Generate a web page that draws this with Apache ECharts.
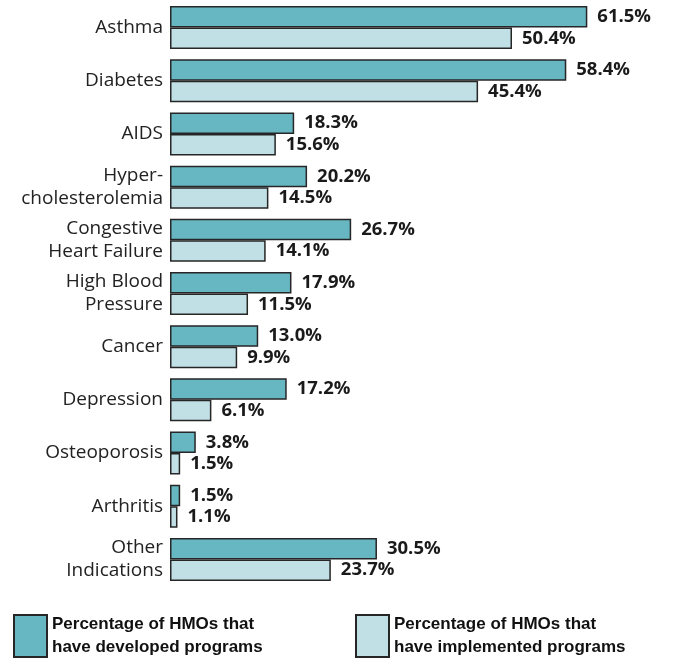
<!DOCTYPE html>
<html><head><meta charset="utf-8">
<script src="https://cdn.jsdelivr.net/npm/echarts@6/dist/echarts.min.js"></script>
<style>html,body{margin:0;padding:0;background:#fff}#c{width:673px;height:664px}</style>
</head><body><div id="c"></div>
<script>
const categories = ['Asthma','Diabetes','AIDS','Hyper-\ncholesterolemia','Congestive\nHeart Failure','High Blood\nPressure','Cancer','Depression','Osteoporosis','Arthritis','Other\nIndications'];
const developed = [61.5,58.4,18.3,20.2,26.7,17.9,13.0,17.2,3.8,1.5,30.5];
const implemented = [50.4,45.4,15.6,14.5,14.1,11.5,9.9,6.1,1.5,1.1,23.7];
const seriesNames = ['Percentage of HMOs that\nhave developed programs','Percentage of HMOs that\nhave implemented programs'];

const chart = echarts.init(document.getElementById('c'));
const labelStyle = {show:true,position:'right',distance:10,fontFamily:'Open Sans',fontWeight:'bold',fontSize:18.5,color:'#1a1a1a',formatter:p=>p.value.toFixed(1)+'%'};
const legendText = {fontFamily:'"Liberation Sans Narrow","Liberation Sans",Arial',fontWeight:'bold',fontSize:17,lineHeight:23,color:'#111'};
const legendBase = {bottom:5,padding:0,itemWidth:33,itemHeight:42,itemGap:0,icon:'rect',textStyle:legendText,selectedMode:false};
chart.setOption({
  animation:false,
  grid:{left:170,right:28,top:1,bottom:78,containLabel:false},
  xAxis:{type:'value',min:0,max:70,show:false},
  yAxis:{type:'category',data:categories,inverse:true,
    axisLine:{show:false},axisTick:{show:false},
    axisLabel:{margin:7,fontFamily:'Open Sans',fontSize:19,lineHeight:23,color:'#222',align:'right',padding:[4,0,0,0]}},
  legend:[
    Object.assign({data:[seriesNames[0]],left:13},legendBase),
    Object.assign({data:[seriesNames[1]],left:355},legendBase)
  ],
  series:[
    {name:seriesNames[0],type:'bar',data:developed,barWidth:21.5,barGap:'0%',
     itemStyle:{color:'#67b7c3',borderColor:'#262626',borderWidth:1.5},label:labelStyle},
    {name:seriesNames[1],type:'bar',data:implemented,barWidth:21.5,barGap:'0%',
     itemStyle:{color:'#c1e0e5',borderColor:'#262626',borderWidth:1.5},label:labelStyle}
  ]
});
</script></body></html>
